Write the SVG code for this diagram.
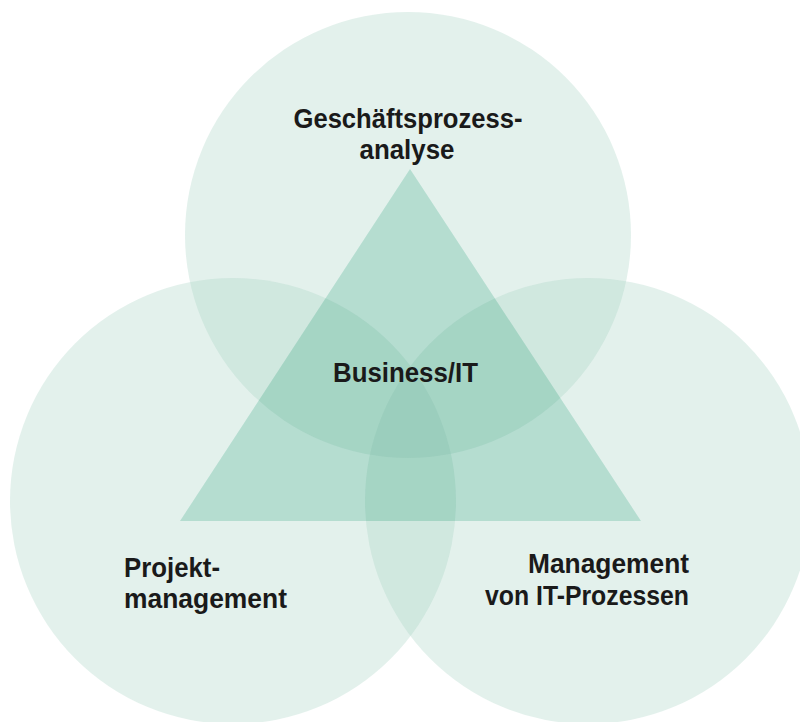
<svg xmlns="http://www.w3.org/2000/svg" width="800" height="722" viewBox="0 0 800 722">
  <style>
    .circle { fill: #aad5c5; fill-opacity: 0.33; }
    .tri { fill: #cbeae1; mix-blend-mode: multiply; }
    .label { font-family: "Liberation Sans", Arial, sans-serif; font-weight: bold; font-size: 28px; fill: #1a1a1a; }
  </style>
  <rect x="0" y="0" width="800" height="722" fill="#ffffff"/>
  <g id="shapes" style="isolation:isolate">
    <g id="circle-top"><circle class="circle" cx="408" cy="235" r="223"/></g>
    <g id="circle-left"><circle class="circle" cx="233" cy="501" r="223"/></g>
    <g id="circle-right"><circle class="circle" cx="588" cy="501" r="223"/></g>
    <g id="triangle"><polygon class="tri" points="410,169 180,521 641,521"/></g>
  </g>
  <g id="labels">
    <g id="node-geschaeftsprozess">
      <text class="label" x="408" y="128" text-anchor="middle" textLength="229" lengthAdjust="spacingAndGlyphs">Geschäftsprozess-</text>
      <text class="label" x="407" y="159" text-anchor="middle" textLength="95" lengthAdjust="spacingAndGlyphs">analyse</text>
    </g>
    <g id="node-business-it">
      <text class="label" x="333" y="382" textLength="145" lengthAdjust="spacingAndGlyphs">Business/IT</text>
    </g>
    <g id="node-projekt">
      <text class="label" x="124" y="577" textLength="96" lengthAdjust="spacingAndGlyphs">Projekt-</text>
      <text class="label" x="124" y="608" textLength="163" lengthAdjust="spacingAndGlyphs">management</text>
    </g>
    <g id="node-it-prozesse">
      <text class="label" x="528" y="573" textLength="161" lengthAdjust="spacingAndGlyphs">Management</text>
      <text class="label" x="485" y="605" textLength="204" lengthAdjust="spacingAndGlyphs">von IT-Prozessen</text>
    </g>
  </g>
  <g id="connectors"></g>
</svg>
